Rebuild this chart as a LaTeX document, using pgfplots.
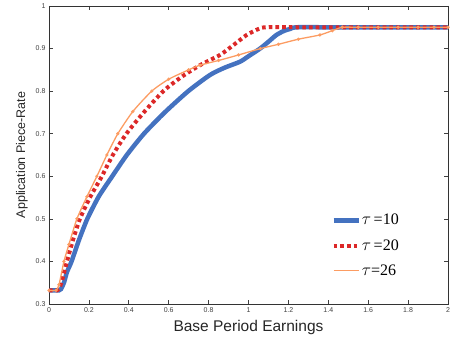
\documentclass[border=0pt]{standalone}
\usepackage{pgfplots}
\pgfplotsset{compat=1.18}
\usepackage{fontspec}
\setmainfont{Liberation Sans}
\newfontfamily\seriffont{Liberation Serif}
\definecolor{cblue}{RGB}{68,114,192}
\definecolor{cred}{RGB}{220,40,40}
\definecolor{corange}{RGB}{252,156,98}
\begin{document}
\begin{tikzpicture}
\begin{axis}[
  scale only axis,
  width=399pt, height=298pt,
  xmin=0, xmax=2, ymin=0.3, ymax=1,
  xtick={0,0.2,...,2.01}, ytick={0.3,0.4,...,1.01},
  xticklabels={0,0.2,0.4,0.6,0.8,1,1.2,1.4,1.6,1.8,2},
  yticklabels={0.3,0.4,0.5,0.6,0.7,0.8,0.9,1},
  tick align=inside, major tick length=4pt,
  tick style={black!75, line width=0.6pt},
  axis line style={black!80, line width=0.8pt},
  tick label style={font=\fontsize{7}{8}\selectfont, text=black!75},
  /pgf/number format/assume math mode=true,
  xlabel={Base Period Earnings},
  ylabel={Application Piece-Rate},
  xlabel style={font=\fontsize{15.5}{17}\selectfont, text=black!85, at={(axis description cs:0.5,-0.0805)}, anchor=center},
  ylabel style={font=\fontsize{12.5}{14}\selectfont, text=black!85, at={(axis description cs:-0.0677,0.5)}, anchor=center},
  legend style={draw=none, fill=none, at={(0.707,0.305)}, anchor=north west,
    font=\fontsize{16}{19}\selectfont, row sep=11pt, inner sep=0pt,
    nodes={inner sep=1pt}},
  legend cell align=left,
  legend image code/.code={\draw[#1] (0pt,0pt) -- (25pt,0pt);},
]
\addplot[cblue, line width=4.5pt, smooth, tension=0.4] coordinates {
(0,0.332)(0.05,0.332)(0.06,0.335)(0.075,0.35)(0.09,0.375)(0.113,0.40)(0.15,0.45)
(0.192,0.50)(0.25,0.553)(0.317,0.60)(0.39,0.65)(0.476,0.70)(0.58,0.75)(0.698,0.80)
(0.807,0.838)(0.88,0.855)(0.957,0.869)(1.0,0.882)(1.058,0.90)(1.1,0.916)(1.14,0.932)
(1.18,0.942)(1.208,0.946)(1.24,0.95)(1.4,0.95)(1.7,0.95)(2,0.95)};
\addlegendentry{\seriffont$\tau$\,=10}
\addplot[cred, line width=4pt, dash pattern=on 3.6pt off 3.1pt, smooth, tension=0.4] coordinates {
(0,0.332)(0.04,0.332)(0.05,0.335)(0.065,0.355)(0.09,0.40)(0.12,0.45)(0.155,0.50)
(0.205,0.55)(0.265,0.60)(0.32,0.65)(0.388,0.70)(0.475,0.75)(0.573,0.80)(0.66,0.832)
(0.757,0.861)(0.857,0.885)(0.924,0.908)(0.991,0.932)(1.05,0.946)(1.09,0.95)(1.3,0.95)(1.6,0.95)(2,0.95)};
\addlegendentry{\seriffont$\tau$\,=20}
\addplot[corange, line width=1.3pt, mark=*, mark size=0.9pt, smooth, tension=0.4] coordinates {
(0,0.332)(0.035,0.332)(0.05,0.345)(0.075,0.40)(0.10,0.44)(0.14,0.50)(0.19,0.552)
(0.24,0.60)(0.29,0.65)(0.345,0.70)(0.42,0.752)(0.515,0.80)(0.6,0.828)(0.7,0.85)
(0.757,0.861)(0.85,0.872)(0.95,0.885)(1.06,0.90)(1.15,0.91)(1.25,0.922)(1.358,0.932)
(1.42,0.942)(1.47,0.95)(1.55,0.95)(1.65,0.95)(1.75,0.95)(1.85,0.95)(1.93,0.95)(2,0.95)};
\addlegendentry{\seriffont$\tau$=26}
\end{axis}
\pgfresetboundingbox
\path[use as bounding box] ([xshift=-49pt,yshift=-42pt]current axis.south west) rectangle ([xshift=2pt,yshift=6pt]current axis.north east);
\end{tikzpicture}
\end{document}
